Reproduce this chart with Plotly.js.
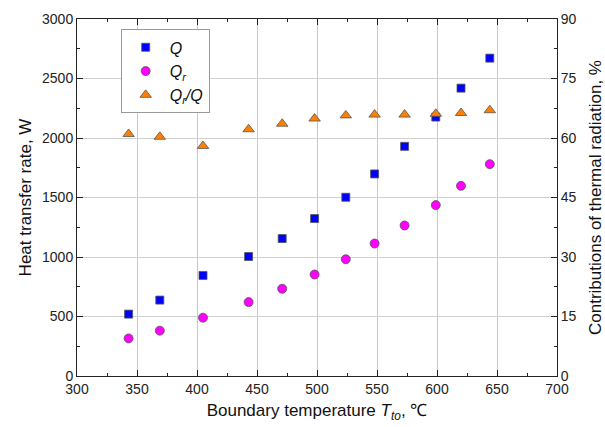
<!DOCTYPE html>
<html>
<head>
<meta charset="utf-8">
<script src="https://cdn.plot.ly/plotly-3.0.1.min.js"></script>
<style>html,body{margin:0;padding:0;background:#fff;}#chart{width:605px;height:427px;}</style>
</head>
<body>
<div id="chart"></div>
<script>
var temperature = [343, 369, 405, 443, 471, 498, 524, 548, 573, 599, 620, 644];
var heatQ  = [520, 638, 845, 1004, 1155, 1323, 1502, 1698, 1930, 2176, 2419, 2671];
var heatQr = [316, 381, 490, 621, 733, 853, 981, 1113, 1265, 1436, 1598, 1780];
var ratioPct = [61.0, 60.3, 58.0, 62.2, 63.6, 64.9, 65.7, 65.9, 65.9, 66.1, 66.3, 67.0];
var seriesNames = ['<i>Q</i>', '<i>Q<sub>r</sub></i>', '<i>Q<sub>r</sub>/Q</i>'];

var font = 'Liberation Sans, Arial, sans-serif';
var mline = {color: '#555', width: 0.8};

var traces = [
  {x: temperature, y: heatQ, name: seriesNames[0], mode: 'markers', type: 'scatter',
   marker: {symbol: 'square', size: 8, color: '#0000ff', line: mline}},
  {x: temperature, y: heatQr, name: seriesNames[1], mode: 'markers', type: 'scatter',
   marker: {symbol: 'circle', size: 9, color: '#ff00ff', line: mline}},
  {x: temperature, y: ratioPct, name: seriesNames[2], mode: 'markers', type: 'scatter', yaxis: 'y2',
   marker: {symbol: 'triangle-up', size: 10, color: '#ff8000', line: mline}}
];

var layout = {
  width: 605, height: 427,
  margin: {l: 77, r: 48, t: 19, b: 51},
  paper_bgcolor: '#fff', plot_bgcolor: '#fff',
  font: {family: font, size: 14, color: '#222'},
  showlegend: true,
  legend: {x: 0.091, y: 0.971, xanchor: 'left', yanchor: 'top',
           bgcolor: '#fff', bordercolor: '#999', borderwidth: 1, itemwidth: 38,
           font: {family: font, size: 16, color: '#111'}, tracegroupgap: 0},
  xaxis: {
    range: [300, 700], dtick: 50, tick0: 300,
    ticks: 'inside', ticklen: 6, tickcolor: '#222',
    showline: true, linecolor: '#222', linewidth: 1, mirror: 'ticks',
    showgrid: true, gridcolor: '#c8c8c8', gridwidth: 1, zeroline: false,
    minor: {dtick: 25, ticks: 'inside', ticklen: 3, tickcolor: '#222', showgrid: false},
    tickfont: {size: 14, color: '#222'},
    title: {text: 'Boundary temperature <i>T</i><sub><i>to</i></sub>, ℃', font: {size: 17, color: '#111'}, standoff: 8}
  },
  yaxis: {
    range: [0, 3000], dtick: 500,
    ticks: 'inside', ticklen: 6, tickcolor: '#222',
    showline: true, linecolor: '#222', linewidth: 1,
    showgrid: true, gridcolor: '#d0d0d0', gridwidth: 1, zeroline: false,
    minor: {dtick: 250, ticks: 'inside', ticklen: 3, tickcolor: '#222', showgrid: false},
    tickfont: {size: 14, color: '#222'},
    title: {text: 'Heat transfer rate, W', font: {size: 17, color: '#111'}, standoff: 6}
  },
  yaxis2: {
    overlaying: 'y', side: 'right', range: [0, 90], dtick: 15,
    ticks: 'inside', ticklen: 6, tickcolor: '#222',
    showline: true, linecolor: '#222', linewidth: 1,
    showgrid: false, zeroline: false,
    minor: {dtick: 7.5, ticks: 'inside', ticklen: 3, tickcolor: '#222', showgrid: false},
    tickfont: {size: 14, color: '#222'},
    title: {text: 'Contributions of thermal radiation, %', font: {size: 17, color: '#111'}, standoff: 13}
  }
};

Plotly.newPlot('chart', traces, layout, {displayModeBar: false, staticPlot: true});
</script>
</body>
</html>
